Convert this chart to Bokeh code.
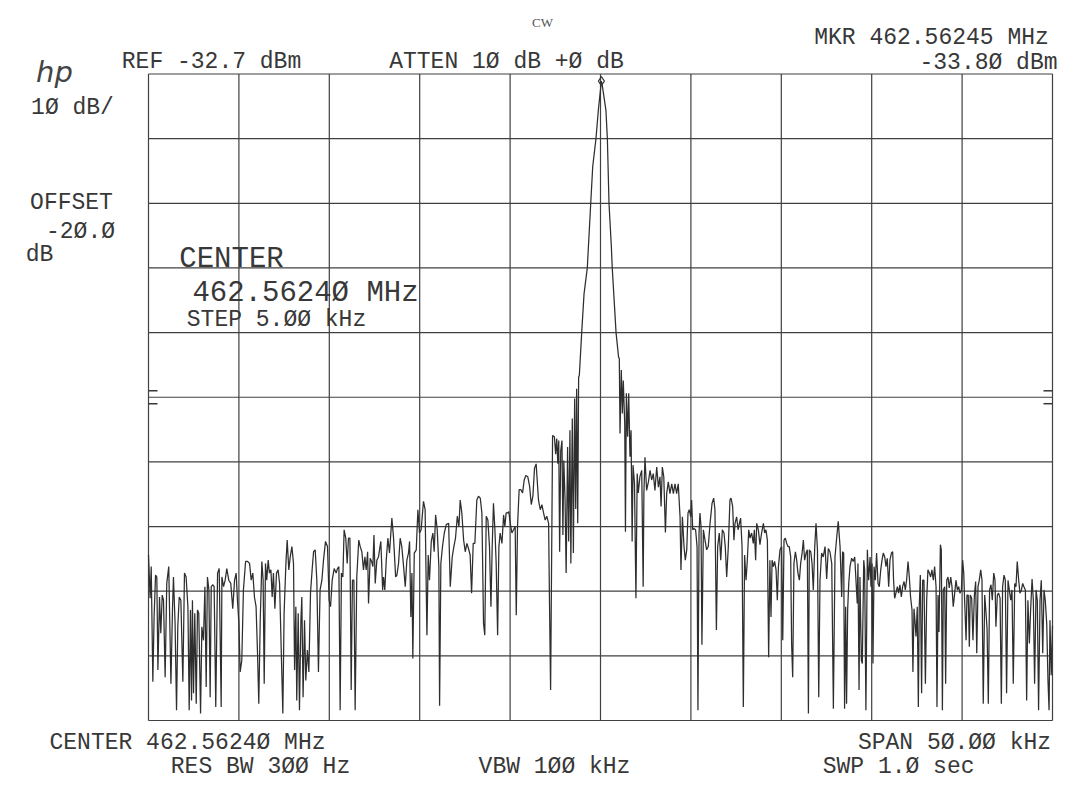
from bokeh.plotting import figure
from bokeh.models import Label, Range1d
from bokeh.embed import file_html
from bokeh.resources import INLINE

# ---------------- data ----------------
ref_level_dbm = -32.7
db_per_div = 10
n_div = 10
center_khz = 0.0
span_khz = 50.0

trace_freq_khz = [
    # -25 .. -13.4 kHz
    -25.00, -24.91, -24.85, -24.76, -24.69, -24.61, -24.54, -24.48, -24.39, -24.32,
    -24.24, -24.17, -24.08, -23.99, -23.88, -23.76, -23.67, -23.62, -23.53, -23.45,
    -23.38, -23.30, -23.21, -23.10, -23.01, -22.92, -22.82, -22.75, -22.68, -22.62,
    -22.57, -22.51, -22.44, -22.36, -22.29, -22.22, -22.12, -22.05, -21.96, -21.88,
    -21.81, -21.74, -21.66, -21.59, -21.53, -21.44, -21.37, -21.28, -21.18, -21.09,
    -20.98, -20.94, -20.85, -20.76, -20.67, -20.56, -20.45, -20.34, -20.24, -20.15,
    -20.08, -20.00, -19.93, -19.84, -19.75, -19.63, -19.52, -19.41, -19.32, -19.23,
    -19.14, -19.05, -18.97, -18.90, -18.82, -18.73, -18.66, -18.60, -18.53, -18.46,
    -18.38, -18.31, -18.23, -18.16, -18.09, -18.01, -17.92, -17.83, -17.75, -17.64,
    -17.57, -17.50, -17.40, -17.33, -17.24, -17.16, -17.07, -16.98, -16.92, -16.85,
    -16.80, -16.72, -16.65, -16.57, -16.52, -16.45, -16.37, -16.30, -16.21, -16.13,
    -16.04, -15.95, -15.87, -15.78, -15.69, -15.60, -15.51, -15.41, -15.32, -15.21,
    -15.10, -15.01, -14.93, -14.84, -14.73, -14.62, -14.55, -14.47, -14.40, -14.33,
    -14.25, -14.18, -14.09, -14.01, -13.94, -13.86, -13.79, -13.72, -13.64, -13.57,
    -13.48, -13.37,
    # -13.3 .. -2.76 kHz
    -13.29, -13.20, -13.11, -13.03, -12.96, -12.88, -12.83, -12.74, -12.66, -12.59,
    -12.53, -12.46, -12.37, -12.28, -12.15, -12.05, -12.00, -11.93, -11.85, -11.76,
    -11.67, -11.54, -11.45, -11.33, -11.26, -11.17, -11.08, -10.99, -10.89, -10.80,
    -10.71, -10.62, -10.56, -10.49, -10.43, -10.38, -10.30, -10.19, -10.10, -10.01,
    -9.92, -9.79, -9.70, -9.60, -9.53, -9.46, -9.36, -9.27, -9.20, -9.12,
    -9.03, -8.94, -8.90, -8.83, -8.74, -8.64, -8.53, -8.40, -8.31, -8.20,
    -8.11, -8.02, -7.92, -7.83, -7.76, -7.67, -7.57, -7.48, -7.39, -7.30,
    -7.21, -7.13, -7.04, -6.95, -6.84, -6.75, -6.65, -6.56, -6.47, -6.40,
    -6.32, -6.23, -6.14, -6.06, -5.99, -5.92, -5.84, -5.77, -5.69, -5.62,
    -5.55, -5.45, -5.36, -5.29, -5.22, -5.14, -5.07, -4.99, -4.90, -4.81,
    -4.72, -4.66, -4.59, -4.50, -4.40, -4.31, -4.22, -4.13, -4.02, -3.92,
    -3.83, -3.74, -3.65, -3.56, -3.43, -3.33, -3.24, -3.15, -3.06, -2.97,
    -2.87, -2.82, -2.76,
    # carrier and close-in sidebands
    -2.65, -2.55, -2.48, -2.42, -2.36, -2.31, -2.26, -2.20, -2.13, -2.08,
    -2.03, -1.96, -1.90, -1.82, -1.76, -1.69, -1.64, -1.56, -1.50, -1.43,
    -1.37, -1.32, -1.26, -1.21, -1.17, -1.04, -0.91, -0.73, -0.54, -0.43,
    -0.25, -0.12, 0.05, 0.10, 0.30, 0.38, 0.47, 0.60, 0.65, 0.86,
    1.00, 1.04, 1.08, 1.15, 1.21, 1.26, 1.34, 1.38, 1.43, 1.50,
    1.56, 1.63, 1.69, 1.75, 1.80, 1.88, 1.96, 2.03, 2.09, 2.18,
    2.28, 2.36, 2.40, 2.46, 2.55, 2.65, 2.74, 2.83, 2.92, 3.01,
    3.11, 3.20, 3.29, 3.35, 3.42, 3.50, 3.59, 3.66, 3.75, 3.84,
    3.94, 4.03, 4.12, 4.21, 4.30,
    # 4.4 .. 12.1 kHz
    4.40, 4.45, 4.53, 4.62, 4.69, 4.77, 4.84, 4.91, 4.99, 5.04,
    5.10, 5.17, 5.26, 5.34, 5.39, 5.45, 5.50, 5.56, 5.61, 5.69,
    5.78, 5.87, 5.96, 6.06, 6.17, 6.26, 6.33, 6.41, 6.48, 6.57,
    6.65, 6.74, 6.83, 6.90, 6.98, 7.07, 7.16, 7.22, 7.31, 7.38,
    7.44, 7.53, 7.61, 7.68, 7.75, 7.83, 7.90, 7.97, 8.05, 8.12,
    8.20, 8.27, 8.36, 8.45, 8.51, 8.58, 8.64, 8.73, 8.82, 8.91,
    9.01, 9.08, 9.15, 9.23, 9.30, 9.37, 9.43, 9.49, 9.56, 9.63,
    9.71, 9.78, 9.84, 9.93, 10.02, 10.08, 10.15, 10.22, 10.30, 10.37,
    10.44, 10.52, 10.57, 10.63, 10.70, 10.78, 10.85, 10.92, 11.00, 11.07,
    11.15, 11.22, 11.29, 11.37, 11.44, 11.50, 11.55, 11.63, 11.70, 11.77,
    11.85, 11.92, 12.00, 12.07,
    # 12.1 .. 25 kHz
    12.14, 12.23, 12.32, 12.42, 12.51, 12.60, 12.69, 12.79, 12.88, 12.97,
    13.06, 13.15, 13.25, 13.34, 13.39, 13.45, 13.50, 13.56, 13.61, 13.67,
    13.73, 13.80, 13.89, 13.98, 14.06, 14.13, 14.20, 14.24, 14.30, 14.35,
    14.43, 14.48, 14.56, 14.61, 14.68, 14.76, 14.83, 14.91, 14.96, 15.02,
    15.07, 15.13, 15.20, 15.27, 15.35, 15.42, 15.50, 15.57, 15.64, 15.72,
    15.79, 15.86, 15.94, 16.01, 16.09, 16.16, 16.21, 16.27, 16.34, 16.42,
    16.49, 16.56, 16.64, 16.71, 16.79, 16.86, 16.93, 17.01, 17.08, 17.15,
    17.23, 17.28, 17.34, 17.39, 17.45, 17.52, 17.58, 17.63, 17.69, 17.76,
    17.82, 17.89, 17.97, 18.04, 18.11, 18.19, 18.26, 18.33, 18.41, 18.48,
    18.56, 18.61, 18.67, 18.72, 18.80, 18.85, 18.91, 18.96, 19.04, 19.09,
    19.15, 19.22, 19.29, 19.37, 19.44, 19.51, 19.59, 19.66, 19.74, 19.81,
    19.88, 19.96, 20.03, 20.09, 20.14, 20.22, 20.27, 20.34, 20.40, 20.45,
    20.53, 20.60, 20.68, 20.75, 20.81, 20.88, 20.95, 21.03, 21.10, 21.17,
    21.25, 21.32, 21.38, 21.45, 21.52, 21.60, 21.67, 21.75, 21.82, 21.87,
    21.95, 22.02, 22.10, 22.17, 22.24, 22.32, 22.39, 22.46, 22.54, 22.61,
    22.69, 22.76, 22.83, 22.91, 22.98, 23.05, 23.13, 23.20, 23.28, 23.35,
    23.42, 23.50, 23.57, 23.64, 23.72, 23.79, 23.87, 23.94, 24.01, 24.09,
    24.16, 24.23, 24.31, 24.38, 24.46, 24.53, 24.60, 24.68, 24.75, 24.81,
    24.86, 24.93, 25.00,
]

trace_level_dbm = [
    -107.1, -113.8, -108.9, -126.7, -116.7, -110.2, -110.5, -124.9, -113.6, -119.2,
    -113.3, -114.1, -126.0, -111.5, -108.9, -127.0, -115.1, -110.5, -117.7, -131.1,
    -118.2, -113.6, -114.1, -126.7, -109.9, -110.5, -115.1, -131.1, -115.6, -129.6,
    -114.1, -128.5, -116.1, -130.1, -115.6, -116.1, -131.6, -118.2, -120.3, -112.0,
    -127.5, -110.5, -112.5, -129.1, -112.0, -111.7, -112.0, -130.6, -109.9, -109.2,
    -130.6, -110.5, -112.0, -111.0, -109.2, -111.0, -111.5, -115.4, -111.0, -109.9,
    -114.1, -117.7, -125.2, -123.4, -112.5, -108.1, -108.1, -108.4, -111.0, -109.9,
    -113.6, -115.1, -122.3, -130.1, -117.2, -108.1, -111.0, -127.0, -108.4, -111.0,
    -107.9, -109.9, -109.4, -113.6, -109.9, -115.4, -109.9, -109.4, -111.5, -123.9,
    -131.6, -116.1, -108.4, -104.8, -109.4, -107.4, -105.8, -108.4, -124.9, -115.1,
    -129.6, -116.1, -131.1, -117.2, -113.6, -129.1, -117.2, -126.5, -121.8, -125.2,
    -113.0, -109.4, -106.6, -106.3, -111.0, -125.2, -112.5, -111.0, -107.9, -105.0,
    -105.8, -114.1, -115.1, -111.0, -109.2, -109.9, -109.2, -108.9, -131.1, -109.9,
    -110.5, -103.2, -104.5, -108.4, -104.5, -104.5, -128.0, -111.0, -111.0, -131.1,
    -110.5, -104.8,
    -105.8, -106.6, -109.4, -107.4, -109.4, -106.6, -114.6, -107.6, -108.1, -108.9,
    -104.0, -111.5, -107.9, -107.4, -105.0, -112.5, -110.5, -112.5, -107.9, -104.5,
    -106.8, -101.4, -104.3, -110.5, -110.2, -108.4, -104.5, -105.8, -108.9, -112.0,
    -107.9, -106.8, -105.0, -116.7, -109.9, -123.1, -106.8, -106.3, -100.1, -103.7,
    -103.2, -98.8, -100.1, -119.5, -107.1, -111.0, -105.0, -103.7, -106.6, -100.9,
    -103.2, -108.9, -130.4, -108.4, -105.8, -103.7, -102.4, -102.2, -112.0, -107.4,
    -105.8, -104.5, -101.1, -102.7, -98.6, -100.6, -104.8, -106.6, -105.3, -106.1,
    -107.1, -113.0, -105.3, -105.3, -98.6, -98.0, -98.3, -100.6, -117.7, -119.5,
    -101.1, -101.7, -105.8, -115.1, -105.8, -99.1, -103.2, -108.4, -119.5, -105.8,
    -103.7, -105.3, -100.9, -102.7, -100.6, -100.6, -100.4, -102.2, -103.7, -103.2,
    -102.7, -116.4, -102.7, -97.0, -97.0, -97.5, -95.5, -94.8, -95.0, -96.5,
    -99.3, -98.0, -93.7, -93.0, -98.6, -100.1, -99.3, -100.6, -101.7, -101.1,
    -102.2, -114.6, -128.0,
    -88.6, -88.8, -91.5, -89.1, -93.0, -89.4, -106.6, -91.0, -89.4, -104.0,
    -92.5, -98.6, -109.9, -90.4, -105.0, -87.8, -108.4, -86.0, -106.8, -82.9,
    -100.0, -81.4, -102.2, -79.6, -79.3, -72.7, -66.7, -62.7, -52.7, -47.0,
    -42.7, -38.3, -33.8, -34.5, -38.3, -42.7, -52.7, -59.4, -62.7, -72.7,
    -76.5, -76.7, -88.3, -78.5, -85.2, -80.1, -86.8, -103.5, -82.1, -88.8,
    -82.1, -91.9, -87.8, -105.0, -93.2, -96.0, -113.8, -94.5, -97.5, -95.0,
    -94.0, -112.0, -97.6, -92.0, -97.1, -95.8, -94.0, -95.5, -94.5, -97.1,
    -93.5, -96.6, -95.0, -99.6, -93.5, -95.0, -103.6, -97.6, -95.8, -97.6,
    -96.1, -97.6, -96.1, -97.6, -96.1,
    -101.2, -109.4, -101.2, -105.8, -107.9, -106.3, -100.6, -100.1, -101.2, -98.6,
    -103.2, -103.0, -103.2, -105.8, -131.1, -103.7, -100.6, -102.7, -121.0, -103.2,
    -104.8, -106.3, -105.8, -102.2, -99.1, -98.3, -100.1, -118.7, -105.8, -103.7,
    -107.9, -103.2, -103.7, -105.8, -110.5, -105.8, -98.6, -98.3, -99.6, -104.8,
    -102.2, -101.2, -103.2, -102.2, -101.4, -105.8, -130.6, -107.1, -111.0, -107.9,
    -103.2, -104.5, -103.7, -105.3, -103.2, -107.9, -102.2, -103.2, -105.5, -103.7,
    -102.2, -103.7, -103.2, -104.8, -122.9, -107.9, -116.7, -107.9, -108.9, -108.1,
    -109.4, -114.1, -108.9, -106.3, -105.8, -120.3, -104.8, -104.5, -105.3, -105.8,
    -105.8, -107.4, -120.8, -126.0, -108.4, -106.6, -107.9, -109.9, -111.0, -108.4,
    -106.8, -104.8, -107.9, -106.8, -106.3, -131.6, -106.3, -106.6, -108.4, -112.5,
    -105.8, -102.2, -106.3, -129.1,
    -111.0, -106.8, -107.4, -105.8, -110.8, -106.1, -106.6, -108.4, -130.9, -107.4,
    -104.5, -101.9, -105.8, -113.6, -106.6, -106.8, -130.9, -115.1, -130.1, -115.6,
    -111.5, -108.9, -107.6, -108.1, -107.4, -111.0, -114.6, -108.4, -128.0, -110.5,
    -123.4, -123.9, -107.9, -109.4, -131.1, -106.3, -111.0, -107.4, -112.0, -108.4,
    -123.9, -108.9, -111.0, -106.8, -111.5, -112.0, -109.4, -107.9, -106.8, -107.4,
    -108.9, -107.6, -112.0, -107.9, -106.8, -106.6, -111.0, -113.8, -113.0, -112.0,
    -113.0, -111.7, -113.6, -112.0, -111.2, -112.5, -111.0, -108.1, -110.5, -113.6,
    -115.6, -125.2, -115.4, -117.2, -119.7, -115.1, -130.6, -115.1, -110.2, -128.5,
    -111.0, -111.0, -127.0, -114.1, -109.4, -109.9, -110.5, -109.4, -111.0, -108.9,
    -112.0, -130.6, -113.3, -119.0, -105.5, -106.3, -131.1, -112.5, -112.0, -127.0,
    -111.0, -110.5, -112.2, -110.5, -112.0, -115.1, -113.0, -111.0, -112.5, -112.0,
    -113.0, -112.5, -107.9, -109.9, -114.1, -120.3, -113.3, -113.3, -121.3, -113.3,
    -113.8, -120.3, -113.3, -111.2, -122.3, -112.0, -111.0, -109.4, -111.0, -130.1,
    -113.3, -115.9, -118.5, -130.1, -112.5, -111.7, -114.1, -109.9, -111.0, -118.2,
    -113.3, -113.0, -113.8, -130.1, -112.0, -110.2, -111.0, -128.5, -111.0, -112.5,
    -114.1, -112.5, -127.0, -111.5, -112.0, -108.1, -111.0, -113.0, -112.5, -111.5,
    -112.0, -112.5, -129.6, -114.1, -120.8, -115.6, -110.8, -114.1, -127.0, -112.5,
    -114.1, -131.1, -114.1, -111.0, -122.3, -112.5, -114.1, -117.7, -126.5, -131.1,
    -117.2, -125.7, -118.0,
]

marker_freq_khz = [0.05]
marker_level_dbm = [-33.8]

# small reference marks on the left/right graticule edges
edge_mark_level_dbm = [-81.7, -83.7]

# graticule divisions
x_div_khz = [center_khz - span_khz / 2 + i * span_khz / n_div for i in range(n_div + 1)]
y_div_dbm = [ref_level_dbm - i * db_per_div for i in range(n_div + 1)]

# ---------------- layout (page pixels of the graticule) ----------------
W, H = 1091, 800
GL, GR, GT, GB = 148.0, 1052.0, 73.5, 720.0

gx0, gx1 = x_div_khz[0], x_div_khz[-1]
gy_top, gy_bot = y_div_dbm[0], y_div_dbm[-1]
kx = (gx1 - gx0) / (GR - GL)
ky = (gy_top - gy_bot) / (GB - GT)

# the frame spans the whole canvas so that the annotation texts are not clipped
p = figure(width=W, height=H, output_backend="svg", toolbar_location=None,
           x_range=Range1d(gx0 - GL * kx, gx1 + (W - GR) * kx),
           y_range=Range1d(gy_bot - (H - GB) * ky, gy_top + GT * ky),
           x_axis_location=None, y_axis_location=None,
           min_border=0, min_border_left=0, min_border_right=0,
           min_border_top=0, min_border_bottom=0,
           background_fill_color="white", border_fill_color="white",
           outline_line_color=None)
p.grid.visible = False
p.title.visible = False

ink = "#383838"

# graticule
p.segment(x0=x_div_khz, y0=[gy_bot] * len(x_div_khz), x1=x_div_khz, y1=[gy_top] * len(x_div_khz),
          line_color="#404040", line_width=1.2)
p.segment(x0=[gx0] * len(y_div_dbm), y0=y_div_dbm, x1=[gx1] * len(y_div_dbm), y1=y_div_dbm,
          line_color="#404040", line_width=1.2)

n = min(len(trace_freq_khz), len(trace_level_dbm))
p.line(trace_freq_khz[:n], trace_level_dbm[:n], line_color="#2e2e2e", line_width=1.25)

p.scatter(marker_freq_khz, marker_level_dbm, marker="diamond", size=9,
          fill_color="white", fill_alpha=0.0, line_color=ink, line_width=1.2)

tick_len = span_khz / n_div * 0.1
p.segment(x0=[gx0] * 2 + [gx1] * 2, y0=edge_mark_level_dbm * 2,
          x1=[gx0 + tick_len] * 2 + [gx1 - tick_len] * 2, y1=edge_mark_level_dbm * 2,
          line_color=ink, line_width=1.5)


# page-pixel layout helper for text placement (layout only)
def px_x(X):
    return gx0 + (X - GL) * kx


def px_y(Y):
    return gy_top - (Y - GT) * ky


def label(text, X, Y, size="23px", align="center", font="Liberation Mono",
          style="normal", color=ink):
    p.add_layout(Label(x=px_x(X), y=px_y(Y), text=text, text_align=align,
                       text_baseline="alphabetic", text_font=font,
                       text_font_size=size, text_font_style=style,
                       text_color=color))


label("CW", 542, 22, size="13px", font="Liberation Serif", color="#555555")
label("MKR 462.56245 MHz", 931, 37)
label("REF -32.7 dBm", 211, 61)
label("ATTEN 1Ø dB +Ø dB", 506, 61)
label("-33.8Ø dBm", 988, 62)
label("hp", 54, 71, size="29px", font="DejaVu Sans", style="italic", color="#444444")
label("1Ø dB/", 72, 107)
label("OFFSET", 71, 202)
label("-2Ø.Ø", 80, 231)
label("dB", 39, 254)
label("CENTER", 231, 259, size="29px")
label("462.5624Ø MHz", 305, 293, size="29px")
label("STEP 5.ØØ kHz", 276, 319)
label("CENTER 462.5624Ø MHz", 187, 742)
label("RES BW 3ØØ Hz", 260, 766)
label("VBW 1ØØ kHz", 554, 766)
label("SPAN 5Ø.ØØ kHz", 954, 742)
label("SWP 1.Ø  sec", 905, 766)

open("out.html", "w").write(file_html(p, INLINE))
